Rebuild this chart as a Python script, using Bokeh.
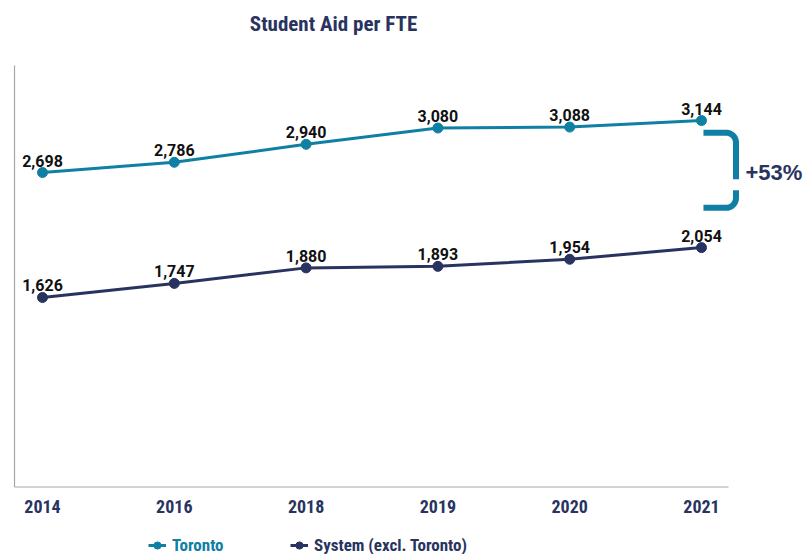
import numpy as np
from bokeh.plotting import figure
from bokeh.models import Range1d, Legend, LegendItem, Label, ColumnDataSource
from bokeh.core.properties import value
from bokeh.embed import file_html
from bokeh.resources import INLINE

# ---------------- data ----------------
years = ["2014", "2016", "2018", "2019", "2020", "2021"]
toronto = [2698, 2786, 2940, 3080, 3088, 3144]
system = [1626, 1747, 1880, 1893, 1954, 2054]
series_names = ["Toronto", "System (excl. Toronto)"]
diff_label = "+53%"
title_text = "Student Aid per FTE"

# ---------------- styles ----------------
TEAL = "#0f80a3"
NAVY = "#28345f"
AXIS_GRAY = "#a6a6a6"
COND = "'Liberation Sans Narrow', 'Roboto Condensed', 'DejaVu Sans Condensed', Roboto, sans-serif"

W, H = 808, 554
idx = list(range(len(years)))

# axis extents (plot area)
X_LEFT, X_AXIS_END = -0.2124, 5.205
Y_TOP = 3616

p = figure(width=W, height=H, output_backend="svg", toolbar_location=None,
           x_range=Range1d(-0.3187, 5.812), y_range=Range1d(-579, 4174),
           min_border=0)
p.outline_line_color = None
p.xgrid.visible = False
p.ygrid.visible = False
p.xaxis.visible = False
p.yaxis.visible = False
p.background_fill_color = "white"
p.border_fill_color = "white"

# axis lines
p.segment(x0=[X_LEFT], y0=[0], x1=[X_LEFT], y1=[Y_TOP], line_color=AXIS_GRAY, line_width=1.2)
p.segment(x0=[X_LEFT], y0=[0], x1=[X_AXIS_END], y1=[0], line_color=AXIS_GRAY, line_width=1.2)

# category labels (x axis)
p.text(x=idx, y=[0] * len(idx), text=years, text_align="center", text_baseline="middle",
       y_offset=19, text_font=value(COND), text_font_style="bold",
       text_font_size="18px", text_color=NAVY)

# series
src_t = ColumnDataSource(dict(x=idx, y=toronto, lab=[f"{v:,}" for v in toronto]))
src_s = ColumnDataSource(dict(x=idx, y=system, lab=[f"{v:,}" for v in system]))

lt = p.line("x", "y", source=src_t, line_color=TEAL, line_width=3)
ct = p.scatter("x", "y", source=src_t, size=10, fill_color=TEAL, line_color=TEAL)
ls = p.line("x", "y", source=src_s, line_color=NAVY, line_width=3)
cs = p.scatter("x", "y", source=src_s, size=10, fill_color=NAVY, line_color=NAVY)

for src in (src_t, src_s):
    p.text("x", "y", text="lab", source=src, text_align="center", text_baseline="middle",
           y_offset=-12, text_font=value("Roboto"), text_font_style="bold",
           text_font_size="16px", text_color="#111111")

# bracket showing the gap
br_x0, br_x1 = 5.015, 5.262
br_top, br_bot = 3040, 2395
gap_hi, gap_lo = 2640, 2545
rx, ry = 0.075, 86
t1 = np.linspace(np.pi / 2, 0, 12)
top_x = [br_x0] + list(br_x1 - rx + rx * np.cos(t1)) + [br_x1]
top_y = [br_top] + list(br_top - ry + ry * np.sin(t1)) + [gap_hi]
t2 = np.linspace(0, -np.pi / 2, 12)
bot_x = [br_x1] + list(br_x1 - rx + rx * np.cos(t2)) + [br_x0]
bot_y = [gap_lo] + list(br_bot + ry + ry * np.sin(t2)) + [br_bot]
p.line(top_x, top_y, line_color=TEAL, line_width=6)
p.line(bot_x, bot_y, line_color=TEAL, line_width=6)

p.add_layout(Label(x=745, y=H - 172, x_units="screen", y_units="screen", text=diff_label,
                   text_align="left", text_baseline="middle", text_font="Liberation Sans",
                   text_font_style="bold", text_font_size="22px", text_color=NAVY))

# title
p.add_layout(Label(x=333, y=H - 23, x_units="screen", y_units="screen", text=title_text,
                   text_align="center", text_baseline="middle", text_font=COND,
                   text_font_style="bold", text_font_size="21px", text_color=NAVY))

# legends (two, so each label has its own colour)
for name, rends, col, xloc in ((series_names[0], [lt, ct], TEAL, 148),
                               (series_names[1], [ls, cs], NAVY, 290)):
    lg = Legend(items=[LegendItem(label=name, renderers=rends)], location=(xloc, -1),
                orientation="horizontal", padding=0, margin=0, border_line_color=None,
                background_fill_alpha=0, glyph_width=18, glyph_height=20, label_height=20,
                label_standoff=6, label_text_font=COND, label_text_font_style="bold",
                label_text_font_size="17px", label_text_color=col)
    p.add_layout(lg, "center")

open("out.html", "w").write(file_html(p, INLINE))
